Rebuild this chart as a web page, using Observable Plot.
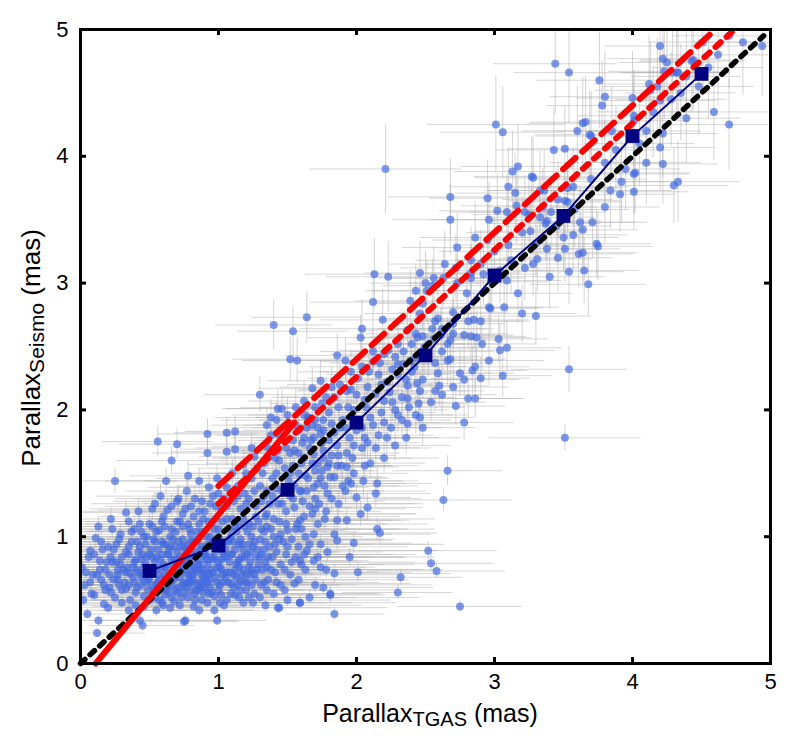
<!DOCTYPE html>
<html>
<head>
<meta charset="utf-8">
<script src="https://cdn.jsdelivr.net/npm/d3@7"></script>
<script src="https://cdn.jsdelivr.net/npm/@observablehq/plot@0.6"></script>
<style>
  html, body { margin: 0; padding: 0; background: #fff; }
  #chart { width: 794px; height: 754px; }
  svg { font-family: "Liberation Sans", Arial, Helvetica, sans-serif; }
</style>
</head>
<body>
<div id="chart"></div>
<script>
// ---- data: [tgas parallax, seismic parallax, tgas error, seismic error] ----
const clusterStars = [
[0.03,0.62,0.45,0.05],[0.05,0.39,0.40,0.04],[0.04,0.72,0.50,0.06],[0.07,0.89,0.55,0.07],[0.08,0.55,0.42,0.05],[0.10,0.54,0.38,0.05],[0.11,0.99,0.60,0.08],[0.12,0.24,0.35,0.04],[0.13,0.34,0.40,0.04],[0.13,1.08,0.55,0.08],[0.14,0.81,0.50,0.06],[0.15,0.66,0.45,0.05],[0.17,0.47,0.40,0.05],[0.18,0.74,0.48,0.06],[0.20,0.92,0.52,0.07],[0.21,0.60,0.45,0.05],[0.22,1.14,0.50,0.09],[0.23,0.80,0.46,0.06],[0.25,1.44,0.45,0.10],[0.25,0.52,0.42,0.05],[0.27,0.70,0.50,0.06],[0.28,0.98,0.55,0.08],[0.30,0.84,0.48,0.06],[0.30,0.58,0.44,0.05],
[0.32,0.64,0.40,0.05],[0.33,1.19,0.50,0.09],[0.34,0.76,0.46,0.06],[0.35,0.92,0.52,0.07],[0.36,0.50,0.40,0.05],[0.37,1.04,0.48,0.08],[0.38,0.68,0.45,0.05],[0.40,0.82,0.50,0.06],[0.40,0.56,0.42,0.05],[0.41,0.96,0.44,0.07],[0.42,0.72,0.55,0.06],[0.43,0.34,0.35,0.04],[0.43,1.10,0.50,0.08],[0.44,0.62,0.40,0.05],[0.45,0.86,0.48,0.07],[0.46,0.45,0.38,0.04],[0.47,0.78,0.50,0.06],[0.48,1.00,0.46,0.08],[0.49,0.58,0.44,0.05],[0.50,0.68,0.52,0.06],[0.51,0.90,0.48,0.07],[0.52,1.22,0.45,0.09],[0.53,0.74,0.50,0.06],[0.54,0.52,0.42,0.05],[0.55,0.84,0.46,0.07],[0.56,1.75,0.40,0.12],[0.56,0.64,0.48,0.05],[0.57,1.05,0.50,0.08],[0.58,0.76,0.44,0.06],[0.58,1.32,0.46,0.10],[0.59,0.48,0.40,0.05],[0.60,0.94,0.52,0.07],
[0.61,0.70,0.48,0.06],[0.62,0.58,0.45,0.05],[0.63,1.21,0.50,0.09],[0.63,0.86,0.46,0.07],[0.64,0.64,0.50,0.06],[0.65,1.00,0.44,0.08],[0.66,1.60,0.40,0.11],[0.66,0.52,0.42,0.05],[0.67,0.78,0.48,0.06],[0.68,0.92,0.52,0.07],[0.69,0.68,0.46,0.06],[0.70,1.73,0.42,0.12],[0.70,1.12,0.50,0.09],[0.71,0.60,0.44,0.05],[0.71,1.30,0.46,0.10],[0.72,0.84,0.48,0.07],[0.73,0.72,0.50,0.06],[0.74,0.98,0.45,0.08],[0.75,0.56,0.42,0.05],[0.75,0.64,0.46,0.06],[0.76,0.34,0.38,0.04],[0.76,0.80,0.50,0.06],[0.77,1.36,0.44,0.10],[0.77,0.90,0.48,0.07],[0.78,0.70,0.52,0.06],[0.79,1.06,0.46,0.08],[0.80,0.58,0.44,0.05],[0.80,0.76,0.50,0.06],[0.81,0.86,0.48,0.07],[0.82,0.66,0.46,0.06],[0.82,1.16,0.44,0.09],[0.83,0.50,0.42,0.05],[0.84,0.74,0.50,0.06],[0.84,0.96,0.46,0.08],[0.85,0.62,0.48,0.05],[0.86,1.44,0.40,0.10],[0.86,0.42,0.40,0.05],[0.87,0.82,0.52,0.07],[0.88,0.70,0.46,0.06],[0.88,1.04,0.44,0.08],[0.89,0.56,0.42,0.05],[0.90,0.88,0.50,0.07],
[0.91,0.66,0.48,0.06],[0.92,1.81,0.36,0.12],[0.92,1.66,0.40,0.11],[0.92,0.78,0.46,0.06],[0.93,1.39,0.44,0.10],[0.93,1.12,0.46,0.09],[0.94,0.60,0.44,0.05],[0.95,0.94,0.50,0.07],[0.96,0.72,0.48,0.06],[0.97,0.42,0.40,0.05],[0.97,0.84,0.46,0.07],[0.98,1.24,0.42,0.09],[0.99,0.34,0.36,0.04],[0.99,0.64,0.46,0.06],[1.00,1.00,0.48,0.08],[1.01,0.76,0.50,0.06],[1.02,0.54,0.42,0.05],[1.03,0.88,0.46,0.07],[1.04,1.30,0.44,0.10],[1.05,0.68,0.48,0.06],[1.06,1.82,0.38,0.12],[1.06,1.67,0.40,0.11],[1.06,1.39,0.42,0.10],[1.07,0.96,0.46,0.08],[1.08,0.80,0.50,0.06],[1.09,0.55,0.42,0.05],[1.10,1.14,0.44,0.09],[1.11,0.70,0.46,0.06],[1.12,1.83,0.36,0.12],[1.12,1.69,0.40,0.11],[1.12,0.90,0.48,0.07],[1.13,1.04,0.46,0.08],[1.14,0.62,0.44,0.05],[1.15,0.82,0.50,0.07],[1.16,0.65,0.46,0.06],[1.16,1.22,0.44,0.09],[1.17,0.94,0.48,0.07],[1.18,1.57,0.40,0.11],[1.18,0.74,0.46,0.06],[1.19,1.08,0.44,0.08],[1.20,0.58,0.42,0.05],
[1.21,0.86,0.48,0.07],[1.22,1.30,0.44,0.10],[1.23,0.70,0.46,0.06],[1.24,1.00,0.46,0.08],[1.25,0.48,0.40,0.05],[1.26,1.63,0.40,0.11],[1.26,0.71,0.44,0.06],[1.26,0.55,0.42,0.05],[1.27,1.16,0.44,0.09],[1.28,0.90,0.48,0.07],[1.29,0.78,0.46,0.06],[1.30,1.40,0.42,0.10],[1.31,1.06,0.44,0.08],[1.32,1.50,0.42,0.11],[1.33,0.64,0.44,0.06],[1.34,0.96,0.46,0.08],[1.35,1.36,0.40,0.10],[1.35,1.08,0.44,0.08],[1.35,1.18,0.44,0.09],[1.35,1.71,0.40,0.11],[1.35,0.58,0.42,0.05],[1.36,0.84,0.46,0.07],[1.37,1.26,0.42,0.09],[1.38,1.80,0.40,0.12],[1.38,0.74,0.44,0.06],[1.39,1.46,0.40,0.10],[1.40,1.00,0.46,0.08],[1.41,1.62,0.40,0.11],[1.42,0.88,0.44,0.07],[1.43,1.81,0.38,0.12],[1.43,1.26,0.42,0.09],[1.43,1.68,0.40,0.11],[1.44,0.44,0.38,0.05],[1.44,1.12,0.44,0.09],[1.45,0.62,0.42,0.06],[1.46,1.36,0.40,0.10],[1.47,0.96,0.44,0.08],[1.47,1.78,0.38,0.12],[1.48,1.54,0.40,0.11],[1.49,1.20,0.42,0.09],[1.50,0.92,0.44,0.07],[1.50,1.05,0.42,0.08],
[1.51,1.44,0.40,0.10],[1.52,1.66,0.38,0.11],[1.53,0.80,0.90,0.07],[1.54,1.30,0.40,0.10],[1.55,1.23,0.42,0.09],[1.55,1.68,0.38,0.11],[1.55,0.63,0.85,0.06],[1.56,1.88,0.38,0.12],[1.57,1.10,0.42,0.09],[1.58,1.50,0.40,0.10],[1.59,1.13,0.80,0.09],[1.59,0.81,0.42,0.07],[1.59,0.48,0.38,0.05],[1.60,1.36,0.40,0.10],[1.61,1.74,0.38,0.12],[1.62,1.62,0.38,0.11],[1.62,1.78,0.38,0.12],[1.63,1.00,0.42,0.08],[1.64,0.89,0.95,0.07],[1.65,1.46,0.40,0.10],[1.65,1.94,0.38,0.13],[1.66,1.24,0.40,0.09],[1.67,1.76,0.38,0.12],[1.68,1.58,0.38,0.11],[1.69,1.02,0.85,0.08],[1.69,1.39,0.40,0.10],[1.69,1.65,0.38,0.11],[1.69,0.81,0.40,0.07],[1.70,1.30,0.40,0.10],[1.72,1.42,0.40,0.10],[1.72,1.86,0.38,0.12],[1.74,0.94,0.90,0.08],[1.74,0.76,0.40,0.07],[1.74,1.81,0.38,0.12],[1.75,1.52,0.38,0.11],[1.76,0.60,0.80,0.06],[1.76,1.68,0.38,0.11],[1.78,1.20,0.40,0.09],[1.79,0.88,0.40,0.07],[1.79,1.34,0.40,0.10],[1.79,1.55,0.38,0.11],[1.80,1.76,0.38,0.12],[1.81,0.55,0.38,0.06],[1.82,1.64,0.38,0.11],[1.84,0.71,0.85,0.07],[1.84,1.47,0.38,0.10],[1.84,0.39,0.36,0.05],[1.86,1.13,0.40,0.09],[1.86,0.97,0.40,0.08],[1.88,1.86,0.38,0.12],[1.89,1.56,0.38,0.11],
[0.45,0.70,0.50,0.06],[0.48,0.84,0.46,0.07],[0.52,0.62,0.48,0.05],[0.54,0.96,0.44,0.08],[0.57,0.70,0.50,0.06],[0.59,0.86,0.46,0.07],[0.61,0.54,0.42,0.05],[0.62,0.76,0.48,0.06],[0.64,0.90,0.46,0.07],[0.66,0.62,0.50,0.06],[0.68,0.82,0.44,0.07],[0.69,1.04,0.46,0.08],[0.70,0.56,0.42,0.05],[0.72,0.68,0.48,0.06],[0.73,0.92,0.46,0.07],[0.74,0.78,0.50,0.06],[0.76,0.60,0.44,0.05],[0.78,0.82,0.48,0.07],[0.79,0.64,0.46,0.06],[0.80,0.96,0.44,0.08],[0.81,0.70,0.50,0.06],[0.83,0.88,0.46,0.07],[0.84,0.58,0.44,0.05],[0.85,0.78,0.48,0.06],[0.87,0.64,0.46,0.06],[0.88,0.92,0.44,0.07],[0.89,0.74,0.50,0.06],[0.90,0.60,0.42,0.05],[0.91,0.84,0.48,0.07],[0.93,0.70,0.46,0.06],[0.94,1.00,0.44,0.08],[0.95,0.56,0.42,0.05],[0.96,0.82,0.48,0.07],[0.98,0.68,0.46,0.06],[0.99,0.90,0.44,0.07],[1.01,0.62,0.46,0.06],[1.02,0.74,0.48,0.06],[1.04,0.84,0.46,0.07],[1.05,0.96,0.44,0.08],[1.07,0.64,0.46,0.06],[1.08,0.72,0.48,0.06],[1.10,0.86,0.46,0.07],[1.11,0.60,0.42,0.05],[1.13,0.78,0.48,0.06],[1.15,0.94,0.44,0.08],[1.17,0.70,0.46,0.06],[1.19,0.84,0.48,0.07],[1.21,0.64,0.44,0.06],[1.23,0.80,0.46,0.07],[1.25,0.92,0.44,0.08],[1.27,0.66,0.46,0.06],[1.30,0.84,0.46,0.07],[1.32,0.74,0.44,0.06],[1.34,1.16,0.42,0.09],[1.37,0.92,0.44,0.08],[0.42,0.88,0.50,0.07],[0.38,0.76,0.48,0.06],[0.35,0.62,0.46,0.05],[0.31,0.74,0.50,0.06],[0.28,0.62,0.46,0.05],[0.26,0.80,0.50,0.06],[0.21,0.70,0.48,0.06],[0.18,0.58,0.46,0.05],[0.16,0.90,0.52,0.07],[0.09,0.70,0.50,0.06],[0.06,0.84,0.52,0.07],[0.02,0.50,0.42,0.05],[0.55,0.42,0.40,0.05],[0.65,0.44,0.40,0.05],[0.72,0.46,0.42,0.05],[0.82,0.45,0.42,0.05],[0.92,0.48,0.42,0.05],[1.04,0.46,0.40,0.05],[1.15,0.52,0.42,0.05],[0.50,1.10,0.46,0.08],[0.60,1.16,0.46,0.09],[0.76,1.22,0.44,0.09],[0.88,1.28,0.44,0.10],[0.98,1.14,0.44,0.09],[1.08,1.06,0.44,0.08],[1.22,1.10,0.44,0.09],
[1.43,0.44,0.80,0.05],[1.59,0.48,0.70,0.05],[0.75,0.33,0.40,0.04],[0.45,0.30,0.38,0.04]
];

const coreStars = [
[0.30,0.48,0.42,0.05],[0.40,0.46,0.40,0.05],[0.50,0.50,0.44,0.05],[0.60,0.46,0.42,0.05],[0.68,0.49,0.46,0.05],[0.78,0.52,0.44,0.05],[0.88,0.50,0.48,0.05],[0.97,0.53,0.44,0.05],[1.06,0.50,0.46,0.05],[1.18,0.48,0.60,0.05],[1.30,0.52,0.70,0.05],[1.40,0.55,0.75,0.06],
[0.22,0.56,0.44,0.05],[0.33,0.59,0.46,0.05],[0.41,0.60,0.48,0.05],[0.47,0.64,0.44,0.06],[0.53,0.57,0.46,0.05],[0.63,0.61,0.50,0.06],[0.69,0.58,0.44,0.05],[0.77,0.63,0.48,0.06],[0.86,0.59,0.46,0.05],[0.92,0.64,0.50,0.06],[1.00,0.58,0.46,0.05],[1.09,0.63,0.52,0.06],[1.16,0.58,0.60,0.05],[1.24,0.62,0.65,0.06],[1.36,0.66,0.70,0.06],[1.48,0.58,0.80,0.06],
[0.12,0.70,0.50,0.06],[0.24,0.66,0.48,0.06],[0.36,0.71,0.46,0.06],[0.44,0.68,0.50,0.06],[0.51,0.72,0.48,0.06],[0.57,0.66,0.46,0.06],[0.65,0.70,0.52,0.06],[0.71,0.74,0.48,0.06],[0.79,0.69,0.46,0.06],[0.83,0.72,0.50,0.06],[0.89,0.68,0.48,0.06],[0.95,0.74,0.46,0.06],[1.03,0.70,0.50,0.06],[1.12,0.74,0.55,0.06],[1.20,0.70,0.60,0.06],[1.28,0.74,0.65,0.06],[1.41,0.72,0.75,0.06],[1.52,0.70,0.80,0.06],[1.63,0.74,0.85,0.07],
[0.19,0.80,0.52,0.07],[0.29,0.78,0.50,0.06],[0.39,0.80,0.48,0.07],[0.46,0.76,0.46,0.06],[0.54,0.80,0.50,0.07],[0.60,0.78,0.48,0.06],[0.66,0.82,0.46,0.07],[0.73,0.78,0.50,0.06],[0.79,0.84,0.48,0.07],[0.86,0.78,0.46,0.06],[0.92,0.82,0.50,0.07],[1.00,0.80,0.48,0.07],[1.06,0.84,0.52,0.07],[1.14,0.80,0.55,0.07],[1.22,0.76,0.60,0.06],[1.27,0.84,0.62,0.07],[1.34,0.80,0.70,0.07],[1.45,0.78,0.75,0.07],[1.56,0.84,0.80,0.07],
[0.24,0.90,0.52,0.07],[0.33,0.88,0.50,0.07],[0.43,0.92,0.48,0.07],[0.50,0.86,0.46,0.07],[0.56,0.90,0.50,0.07],[0.62,0.94,0.48,0.08],[0.70,0.88,0.46,0.07],[0.75,0.92,0.50,0.07],[0.82,0.96,0.48,0.08],[0.87,0.90,0.46,0.07],[0.93,0.94,0.50,0.08],[0.98,0.98,0.48,0.08],[1.05,0.90,0.50,0.07],[1.11,0.96,0.52,0.08],[1.18,0.90,0.55,0.07],[1.26,0.96,0.60,0.08],[1.33,0.90,0.65,0.07],[1.41,0.94,0.70,0.08],[1.53,0.98,0.75,0.08],[1.66,0.94,0.85,0.08],
[0.29,1.02,0.52,0.08],[0.39,1.06,0.50,0.08],[0.46,1.00,0.48,0.08],[0.55,1.04,0.50,0.08],[0.61,1.08,0.48,0.08],[0.67,0.98,0.46,0.08],[0.74,1.08,0.50,0.08],[0.80,1.02,0.48,0.08],[0.86,1.10,0.46,0.09],[0.91,1.00,0.50,0.08],[0.97,1.06,0.48,0.08],[1.03,1.12,0.50,0.09],[1.09,1.00,0.52,0.08],[1.14,1.10,0.55,0.09],[1.21,1.04,0.58,0.08],[1.29,1.12,0.62,0.09],[1.38,1.06,0.66,0.08],[1.45,1.02,0.70,0.08],[1.56,1.06,0.75,0.08],[1.62,1.16,0.70,0.09],[1.72,1.10,0.80,0.09],
[0.42,1.20,0.48,0.09],[0.54,1.26,0.46,0.09],[0.66,1.24,0.48,0.09],[0.74,1.18,0.46,0.09],[0.83,1.30,0.44,0.10],[0.90,1.20,0.48,0.09],[0.96,1.32,0.44,0.10],[1.02,1.22,0.46,0.09],[1.11,1.28,0.48,0.10],[1.19,1.34,0.46,0.10],[1.27,1.24,0.50,0.09],[1.33,1.32,0.52,0.10],[1.42,1.38,0.50,0.10],[1.52,1.32,0.55,0.10],[1.61,1.28,0.60,0.10],[1.73,1.26,0.70,0.10],[1.82,1.30,0.65,0.10],
[0.62,1.44,0.44,0.10],[0.78,1.48,0.42,0.11],[0.99,1.46,0.44,0.11],[1.10,1.50,0.42,0.11],[1.14,1.40,0.44,0.10],[1.24,1.46,0.44,0.11],[1.28,1.54,0.42,0.11],[1.42,1.50,0.44,0.11],[1.54,1.56,0.44,0.11],[1.63,1.48,0.46,0.11],[1.74,1.46,0.50,0.11],[1.90,1.40,0.55,0.11],
[1.24,1.70,0.40,0.12],[1.36,1.62,0.40,0.12],[1.49,1.70,0.40,0.12],[1.58,1.66,0.40,0.12],[1.66,1.70,0.40,0.12],[1.76,1.62,0.42,0.12],[1.86,1.72,0.42,0.12],[1.95,1.78,0.40,0.13],[1.58,1.84,0.40,0.13],[1.70,1.92,0.40,0.13],[1.80,1.98,0.40,0.14],[1.90,1.92,0.40,0.14],[1.98,2.00,0.40,0.14],[2.04,1.86,0.40,0.13],[2.12,1.88,0.40,0.14],[2.18,1.98,0.40,0.14],[2.26,2.06,0.38,0.15],[2.00,2.12,0.38,0.15],[2.08,2.18,0.38,0.15],[2.22,2.22,0.38,0.16],[2.30,2.28,0.38,0.16],[2.16,2.28,0.38,0.16],[1.96,2.30,0.38,0.16],[2.34,2.36,0.38,0.17],[2.40,2.30,0.38,0.16],[2.52,2.42,0.38,0.17],[2.28,2.42,0.38,0.17],[2.12,2.46,0.38,0.17],[2.52,2.52,0.38,0.18],[2.62,2.46,0.38,0.18]
];

const denseStars = [
[0.20,0.44,0.44,0.05],[0.35,0.42,0.42,0.05],[0.46,0.53,0.46,0.05],[0.57,0.50,0.48,0.05],[0.64,0.56,0.50,0.05],[0.73,0.52,0.46,0.05],[0.83,0.55,0.52,0.05],[0.93,0.55,0.55,0.05],[1.01,0.48,0.50,0.05],[1.12,0.54,0.60,0.05],[1.22,0.52,0.65,0.05],[1.34,0.46,0.70,0.05],[1.50,0.50,0.75,0.05],[1.66,0.52,0.80,0.05],
[0.07,0.64,0.50,0.06],[0.17,0.62,0.48,0.06],[0.27,0.66,0.52,0.06],[0.39,0.64,0.50,0.06],[0.49,0.66,0.55,0.06],[0.55,0.62,0.48,0.06],[0.60,0.64,0.52,0.06],[0.67,0.66,0.56,0.06],[0.74,0.62,0.50,0.06],[0.81,0.64,0.54,0.06],[0.88,0.62,0.58,0.06],[0.94,0.66,0.52,0.06],[1.03,0.64,0.60,0.06],[1.13,0.68,0.62,0.06],[1.19,0.64,0.66,0.06],[1.31,0.62,0.70,0.06],[1.42,0.64,0.75,0.06],[1.58,0.66,0.80,0.06],[1.70,0.62,0.85,0.06],
[0.01,0.76,0.52,0.06],[0.14,0.74,0.50,0.06],[0.27,0.74,0.54,0.06],[0.33,0.72,0.50,0.06],[0.41,0.74,0.56,0.06],[0.49,0.76,0.52,0.06],[0.55,0.74,0.50,0.06],[0.61,0.76,0.56,0.06],[0.68,0.74,0.52,0.06],[0.76,0.74,0.58,0.06],[0.82,0.76,0.54,0.06],[0.87,0.74,0.50,0.06],[0.92,0.72,0.56,0.06],[0.99,0.76,0.60,0.06],[1.06,0.72,0.62,0.06],[1.15,0.76,0.64,0.06],[1.24,0.74,0.68,0.06],[1.35,0.76,0.72,0.07],[1.48,0.74,0.78,0.07],[1.60,0.78,0.82,0.07],[1.78,0.74,0.85,0.07],
[0.10,0.86,0.54,0.07],[0.22,0.84,0.52,0.07],[0.35,0.86,0.56,0.07],[0.44,0.82,0.50,0.07],[0.52,0.84,0.54,0.07],[0.58,0.82,0.50,0.07],[0.64,0.86,0.56,0.07],[0.70,0.82,0.52,0.07],[0.76,0.86,0.58,0.07],[0.83,0.82,0.54,0.07],[0.90,0.86,0.50,0.07],[0.95,0.84,0.56,0.07],[1.02,0.82,0.60,0.07],[1.09,0.86,0.62,0.07],[1.17,0.84,0.64,0.07],[1.23,0.88,0.66,0.07],[1.31,0.86,0.70,0.07],[1.39,0.84,0.74,0.07],[1.49,0.86,0.78,0.07],[1.62,0.86,0.82,0.07],[1.72,0.84,0.85,0.07],
[0.15,0.96,0.54,0.08],[0.26,0.94,0.52,0.08],[0.37,0.96,0.56,0.08],[0.47,0.94,0.50,0.08],[0.53,0.98,0.54,0.08],[0.59,0.96,0.50,0.08],[0.65,0.92,0.56,0.07],[0.71,0.96,0.52,0.08],[0.78,0.94,0.58,0.08],[0.85,0.98,0.54,0.08],[0.91,0.92,0.50,0.07],[0.96,0.96,0.56,0.08],[1.02,0.94,0.60,0.08],[1.08,0.98,0.62,0.08],[1.16,0.98,0.64,0.08],[1.22,0.94,0.66,0.08],[1.30,0.98,0.70,0.08],[1.44,0.98,0.76,0.08],[1.58,0.92,0.80,0.08],
[0.23,1.06,0.52,0.08],[0.35,1.12,0.50,0.09],[0.44,1.04,0.54,0.08],[0.52,1.08,0.50,0.08],[0.59,1.12,0.54,0.09],[0.66,1.06,0.50,0.08],[0.72,1.12,0.52,0.09],[0.78,1.10,0.50,0.09],[0.84,1.04,0.54,0.08],[0.89,1.14,0.50,0.09],[0.95,1.10,0.52,0.09],[1.00,1.06,0.56,0.08],[1.06,1.14,0.58,0.09],[1.12,1.08,0.60,0.08],[1.18,1.14,0.62,0.09],[1.25,1.08,0.64,0.08],[1.33,1.04,0.68,0.08],[1.40,1.14,0.70,0.09],[1.49,1.10,0.74,0.09],[1.60,1.06,0.78,0.08],[1.68,1.18,0.76,0.09],[1.77,1.14,0.80,0.09],
[0.70,1.28,0.46,0.10],[0.80,1.24,0.48,0.09],[0.86,1.20,0.46,0.09],[0.94,1.26,0.48,0.10],[1.00,1.34,0.46,0.10],[1.06,1.24,0.50,0.09],[1.14,1.32,0.48,0.10],[1.20,1.26,0.52,0.10],[1.26,1.36,0.48,0.10],[1.31,1.28,0.54,0.10],[1.39,1.32,0.52,0.10],[1.46,1.26,0.58,0.10],[1.55,1.40,0.50,0.10],[1.64,1.36,0.56,0.10],[1.70,1.22,0.66,0.09],[1.77,1.40,0.54,0.10],[1.87,1.26,0.62,0.10],[1.92,1.36,0.58,0.10],
[1.20,1.50,0.42,0.11],[1.33,1.58,0.42,0.11],[1.44,1.60,0.42,0.11],[1.52,1.50,0.44,0.11],[1.60,1.58,0.42,0.11],[1.70,1.52,0.46,0.11],[1.80,1.58,0.44,0.11],[1.87,1.64,0.42,0.12],[1.97,1.62,0.44,0.12],[2.04,1.70,0.42,0.12],[1.54,1.76,0.40,0.12],[1.64,1.86,0.40,0.13],[1.75,1.74,0.40,0.12],[1.84,1.82,0.40,0.13],[1.92,1.86,0.40,0.13],[2.00,1.84,0.40,0.13],[2.16,1.80,0.40,0.13],[2.06,2.08,0.38,0.15],[1.94,2.02,0.38,0.14],[2.24,2.14,0.38,0.15],[2.36,2.24,0.38,0.16],[2.18,2.20,0.38,0.16],[2.42,2.34,0.38,0.17],[2.48,2.24,0.38,0.16],[2.30,2.36,0.38,0.17]
];

const bandStars = [
[1.30,2.12,0.40,0.14],[1.40,2.67,0.42,0.20],[1.54,2.62,0.40,0.20],[1.64,2.73,0.40,0.20],[1.52,2.40,0.42,0.18],[1.57,2.39,0.40,0.18],
[2.03,2.57,0.38,0.18],[1.86,2.43,0.38,0.17],[1.92,2.39,0.38,0.17],[1.74,2.23,0.38,0.16],[1.82,2.18,0.38,0.16],[1.68,2.17,0.38,0.16],[1.62,2.07,0.40,0.15],[1.43,2.01,0.40,0.15],[1.46,2.01,0.40,0.15],[1.38,1.94,0.40,0.14],[1.65,1.94,0.38,0.14],[1.75,2.05,0.38,0.15],[1.84,2.10,0.38,0.15],[1.93,2.15,0.36,0.16],[2.01,2.25,0.36,0.16],[2.09,2.30,0.36,0.17],[2.17,2.37,0.36,0.17],[2.23,2.47,0.36,0.18],[2.30,2.52,0.36,0.18],[2.37,2.63,0.36,0.19],[2.43,2.60,0.36,0.19],[2.48,2.84,0.36,0.20],[2.43,2.94,0.36,0.21],[2.55,2.98,0.36,0.21],[2.63,3.04,0.36,0.22],[2.73,3.00,0.36,0.22],[2.83,3.08,0.36,0.22],[2.57,2.70,0.36,0.19],[2.68,2.55,0.36,0.18],[2.78,2.59,0.36,0.19],[2.90,2.70,0.36,0.19],[2.97,2.80,0.36,0.20],[3.03,2.56,0.36,0.19],[3.06,2.27,0.36,0.17],[2.90,2.25,0.36,0.17],[2.72,2.03,0.36,0.15],[2.78,1.90,0.36,0.14],[2.66,1.52,0.40,0.12],[2.48,1.86,0.38,0.14],[2.43,1.96,0.38,0.15],[2.15,1.42,0.40,0.12],[2.05,1.44,0.40,0.12],[1.96,1.42,0.40,0.12],[1.93,1.66,0.38,0.13],[1.93,1.55,0.38,0.12],[2.08,1.74,0.38,0.13],[2.22,1.78,0.38,0.13],[2.25,1.86,0.38,0.14],[2.37,1.89,0.38,0.14],[2.28,2.00,0.38,0.15],[2.33,2.10,0.38,0.15],[2.20,2.07,0.38,0.15],[2.14,2.13,0.38,0.15],[2.07,2.02,0.38,0.15],[2.10,1.94,0.38,0.14],[1.87,2.02,0.38,0.15],[1.82,1.89,0.38,0.14],[1.76,1.84,0.38,0.14],[1.69,1.78,0.38,0.13],[1.72,1.58,0.38,0.12],[1.81,1.47,0.38,0.12],[1.59,1.36,0.40,0.11],
[2.15,1.06,0.42,0.09],[2.17,1.03,0.42,0.09],[2.30,0.56,0.40,0.06],[1.98,0.95,0.42,0.08],[2.01,0.72,0.40,0.07],[1.95,0.84,0.40,0.07],[1.81,0.54,0.40,0.06],[2.14,1.34,0.40,0.11],[1.94,1.44,0.40,0.12],[2.00,1.31,0.40,0.11],[1.84,1.02,0.42,0.08],[1.93,1.13,0.40,0.09],[2.03,1.18,0.40,0.10],[2.08,1.23,0.40,0.10],
[3.51,1.78,0.55,0.10],[2.63,1.29,0.50,0.09],[2.52,0.89,0.50,0.07],[2.54,0.79,0.45,0.07],[2.58,0.73,0.50,0.06],[2.75,0.45,0.45,0.05],[2.32,0.68,0.45,0.06],[2.81,2.09,0.36,0.15],[2.86,2.09,0.36,0.15],[2.45,2.05,0.36,0.15],[2.37,2.09,0.36,0.15],[2.46,2.15,0.36,0.16],[2.57,2.15,0.36,0.16],[2.60,2.19,0.36,0.16],[2.37,2.19,0.36,0.16],[2.44,2.21,0.36,0.16],[2.33,1.92,0.36,0.14],
[1.35,1.88,0.40,0.13],[1.42,1.92,0.40,0.14],[1.50,1.96,0.40,0.14],[1.56,2.02,0.40,0.15],[1.62,1.96,0.40,0.14],[1.70,2.02,0.40,0.15],[1.78,2.10,0.40,0.15],[1.88,2.20,0.38,0.16],[1.96,2.16,0.38,0.16],[2.04,2.34,0.38,0.17],[2.12,2.38,0.38,0.17],[2.20,2.44,0.38,0.18],[2.26,2.32,0.38,0.17],[2.34,2.46,0.38,0.18],[2.40,2.52,0.38,0.18],[2.48,2.58,0.38,0.19],[2.56,2.56,0.38,0.19],[2.62,2.64,0.38,0.19],[2.70,2.68,0.38,0.20],[1.98,1.72,0.40,0.13],[2.06,1.78,0.40,0.13],[2.14,1.70,0.40,0.13],[2.20,1.90,0.40,0.14],[2.30,1.96,0.40,0.15],[2.38,2.02,0.40,0.15],[2.46,1.94,0.40,0.14],[2.54,2.06,0.40,0.15],[2.62,2.12,0.40,0.16],[2.70,2.18,0.40,0.16],[2.78,2.24,0.40,0.17],[2.10,1.58,0.40,0.12],[2.20,1.62,0.40,0.12],[2.28,1.72,0.40,0.13],[2.36,1.78,0.40,0.13],[1.86,1.56,0.40,0.12],[1.98,1.50,0.40,0.12],[2.06,1.56,0.40,0.12],[1.76,1.92,0.40,0.14],[1.68,1.88,0.40,0.14],[1.50,1.86,0.40,0.13]
];

const upperStars = [
[3.44,4.73,0.45,0.40],[3.54,4.66,0.40,0.40],[3.76,4.60,0.45,0.38],[3.80,4.47,0.40,0.36],[3.78,4.40,0.40,0.35],[3.01,4.25,0.50,0.38],[3.06,4.19,0.45,0.36],[4.20,4.87,0.40,0.40],[4.22,4.77,0.40,0.40],[4.25,4.74,0.35,0.38],[4.51,4.90,0.40,0.40],[4.80,4.90,0.35,0.42],[4.94,4.87,0.30,0.40],[4.59,4.35,0.40,0.38],[4.70,4.25,0.45,0.36],[4.39,4.30,0.40,0.36],[4.22,3.94,0.40,0.32],[4.33,3.80,0.45,0.32],[4.30,3.77,0.40,0.30],[4.20,4.07,0.40,0.34],[4.01,3.72,0.40,0.30],[3.91,3.70,0.40,0.30],[3.84,3.73,0.45,0.30],[3.75,3.29,0.40,0.27],[3.68,2.99,0.42,0.25],[3.64,3.24,0.40,0.27],[3.54,3.09,0.40,0.26],[3.54,2.32,0.42,0.18],[2.68,3.68,0.45,0.30],[2.68,3.50,0.42,0.28],[2.95,3.67,0.42,0.30],[3.43,4.05,0.42,0.34],[3.51,4.06,0.40,0.34],[3.64,4.26,0.40,0.36],[3.70,4.16,0.40,0.35],[4.00,4.46,0.40,0.37],[4.12,4.57,0.40,0.38],[4.32,4.66,0.38,0.38],[4.39,4.63,0.40,0.38],[4.44,4.76,0.38,0.40],[4.23,4.67,0.40,0.38],[4.20,4.44,0.40,0.37],[4.18,4.55,0.40,0.38],[4.01,4.32,0.40,0.36],[3.95,3.90,0.40,0.32],[4.01,3.86,0.40,0.32],
[3.13,3.88,0.42,0.32],[3.17,3.92,0.42,0.33],[3.28,3.83,0.42,0.32],[3.36,3.73,0.40,0.31],[3.15,3.71,0.42,0.31],[2.96,3.50,0.42,0.29],[3.02,3.57,0.42,0.29],[3.09,3.56,0.40,0.29],[3.25,3.54,0.40,0.29],[3.33,3.52,0.40,0.29],[3.38,3.49,0.40,0.29],[3.46,3.66,0.40,0.30],[3.51,3.65,0.40,0.30],[3.53,3.75,0.40,0.31],[3.71,3.48,0.40,0.29],[3.62,3.48,0.40,0.29],[3.50,3.36,0.40,0.28],[3.57,3.38,0.40,0.28],[3.51,3.27,0.40,0.27],[3.46,3.20,0.40,0.27],[3.38,3.27,0.40,0.27],[3.31,3.19,0.40,0.26],[3.22,3.12,0.40,0.26],[3.17,2.92,0.40,0.24],[3.09,3.02,0.40,0.25],[3.04,3.10,0.40,0.26],[2.98,3.01,0.40,0.25],[2.90,3.15,0.40,0.26],[2.83,3.04,0.40,0.25],[2.72,3.12,0.40,0.26],[2.64,3.15,0.40,0.26],[2.56,3.04,0.40,0.25],[2.46,3.08,0.40,0.25],[2.51,2.94,0.40,0.24],[3.07,2.81,0.40,0.23],[3.20,2.76,0.40,0.23],[3.30,2.74,0.40,0.23],[3.09,2.49,0.40,0.21],[2.91,2.52,0.40,0.21],[2.83,2.58,0.40,0.21],[2.85,2.71,0.40,0.22],[2.96,2.81,0.40,0.23],[2.70,2.77,0.40,0.23],[2.59,2.72,0.40,0.22],[2.61,2.59,0.40,0.21],[2.66,2.52,0.40,0.21],[2.49,2.49,0.40,0.20],[2.44,2.57,0.40,0.21],[2.39,2.39,0.40,0.20],[2.57,2.37,0.40,0.19],[2.68,2.40,0.40,0.20],[2.75,2.29,0.40,0.19],[2.86,2.34,0.40,0.19],
[4.22,4.18,0.40,0.35],[4.02,3.87,0.40,0.32],[3.74,3.31,0.40,0.27],[3.64,3.42,0.40,0.28],[3.60,4.20,0.40,0.35],[3.66,4.27,0.40,0.36],[3.69,4.17,0.40,0.35],[4.01,4.28,0.40,0.36],[4.13,4.52,0.40,0.38],[4.29,4.66,0.38,0.38],[4.33,4.66,0.38,0.38],[4.43,4.75,0.38,0.40],[3.27,3.84,0.42,0.32],[3.33,3.73,0.40,0.31],[3.10,3.76,0.42,0.31],[3.16,3.61,0.40,0.30],[3.22,3.56,0.40,0.29],[3.26,3.41,0.40,0.28],[3.37,3.47,0.40,0.29],[3.41,3.56,0.40,0.29],[3.53,3.64,0.40,0.30],[3.57,3.76,0.40,0.31],[3.30,3.31,0.40,0.27],[3.12,3.18,0.40,0.26],[3.28,3.15,0.40,0.26],[3.61,3.23,0.40,0.27],[3.65,3.10,0.40,0.26],[2.92,3.07,0.40,0.25],[2.83,3.18,0.40,0.26],[2.73,3.28,0.40,0.27],[2.95,3.34,0.40,0.28],[2.86,3.36,0.40,0.28],
[2.50,3.00,0.40,0.25],[2.39,2.86,0.40,0.24],[2.46,2.76,0.40,0.23],[2.55,2.64,0.40,0.22],[2.70,2.60,0.40,0.22],[2.81,2.70,0.40,0.22],[2.87,2.57,0.40,0.21],[3.04,2.47,0.40,0.21],[2.96,2.39,0.40,0.20],[2.84,2.31,0.40,0.19],[2.43,2.41,0.40,0.20],[2.59,2.29,0.40,0.19],[2.66,2.39,0.40,0.20],
[3.20,3.40,0.40,0.28],[3.35,3.60,0.40,0.30],[3.45,3.45,0.40,0.29],[3.58,3.58,0.40,0.30],[3.70,3.82,0.40,0.32],[3.80,3.95,0.40,0.33],[3.88,4.05,0.40,0.34],[3.92,3.80,0.40,0.32],[4.05,4.10,0.40,0.34],[4.10,4.20,0.40,0.35],[4.15,4.35,0.40,0.36],[4.28,4.45,0.40,0.37],[4.35,4.50,0.40,0.38],[4.48,4.55,0.40,0.38],[4.55,4.70,0.40,0.40],[4.62,4.80,0.40,0.40],[4.70,4.95,0.40,0.42],[3.85,4.20,0.40,0.35],[3.00,3.25,0.40,0.27],[2.80,2.92,0.40,0.24],[3.10,3.30,0.40,0.27],[3.40,3.05,0.40,0.26],[3.80,3.60,0.40,0.30],[4.10,3.95,0.40,0.33]
];

const outlierStars = [
[2.21,3.90,0.55,0.35],[2.13,3.07,0.50,0.28],[2.23,3.05,0.45,0.28],[2.12,2.85,0.45,0.25],[2.19,2.71,0.45,0.24],[2.04,2.64,0.45,0.23]
];

// binned medians
const binTgas   = [0.5, 1.0, 1.5, 2.0, 2.5, 3.0, 3.5, 4.0, 4.5];
const binSeismo = [0.73, 0.93, 1.37, 1.90, 2.43, 3.06, 3.53, 4.16, 4.65];

// reference relations
const oneToOneX = [0.0, 4.95];
const oneToOneY = [0.0, 4.95];
const redSolidX = [0.11, 1.55];
const redSolidY = [0.00, 1.90];
const redDashedX = [1.00, 4.60];
const redDashedY = [1.40, 5.00];
const redDottedX = [1.00, 4.74];
const redDottedY = [1.26, 5.00];

const axisTicks = [0, 1, 2, 3, 4, 5];
const innerTicks = [1, 2, 3, 4];

// ---- build ----
const stars = [...clusterStars, ...coreStars, ...denseStars, ...bandStars, ...upperStars, ...outlierStars]
  .map(([x, y, ex, ey]) => ({x, y, ex, ey}));
const bins = binTgas.map((x, i) => ({x, y: binSeismo[i]}));
const pts = (xs, ys) => xs.map((x, i) => ({x, y: ys[i]}));

const W = 794, H = 754, mL = 80, mR = 24, mT = 29, mB = 91;
const innerH = H - mT - mB, innerW = W - mL - mR;
const tickLen = 6;

const chart = Plot.plot({
  width: W, height: H,
  marginLeft: mL, marginRight: mR, marginTop: mT, marginBottom: mB,
  style: {fontFamily: '"Liberation Sans", Arial, Helvetica, sans-serif', background: "white"},
  x: {domain: [0, 5]},
  y: {domain: [0, 5]},
  marks: [
    // error bars
    Plot.ruleY(stars, {y: "y", x1: d => d.x - d.ex, x2: d => d.x + d.ex, stroke: "#b0b0b0", strokeOpacity: 0.5, strokeWidth: 1, clip: true}),
    Plot.ruleX(stars, {x: "x", y1: d => d.y - d.ey, y2: d => d.y + d.ey, stroke: "#b0b0b0", strokeOpacity: 0.55, strokeWidth: 1, clip: true}),
    // stars
    Plot.dot(stars, {x: "x", y: "y", r: 4, fill: "#4169E1", fillOpacity: 0.68, stroke: "none", clip: true}),
    // 1:1 line
    Plot.line(pts(oneToOneX, oneToOneY), {x: "x", y: "y", stroke: "black", strokeWidth: 5.5, strokeDasharray: "6,7"}),
    // red relations
    Plot.line(pts(redSolidX, redSolidY), {x: "x", y: "y", stroke: "#ff0000", strokeWidth: 6}),
    Plot.line(pts(redDashedX, redDashedY), {x: "x", y: "y", stroke: "#ff0000", strokeWidth: 6, strokeDasharray: "17,9"}),
    Plot.line(pts(redDottedX, redDottedY), {x: "x", y: "y", stroke: "#ff0000", strokeWidth: 6, strokeDasharray: "7,8"}),
    // binned medians
    Plot.line(bins, {x: "x", y: "y", stroke: "#000080", strokeWidth: 2}),
    Plot.dot(bins, {x: "x", y: "y", symbol: "square", r: 7.8, fill: "#000080", stroke: "none"}),
    // frame and ticks
    Plot.frame({stroke: "black", strokeWidth: 3}),
    Plot.ruleX(innerTicks, {x: d => d, insetTop: innerH - tickLen, stroke: "black", strokeWidth: 3}),
    Plot.ruleX(innerTicks, {x: d => d, insetBottom: innerH - tickLen, stroke: "black", strokeWidth: 3}),
    Plot.ruleY(innerTicks, {y: d => d, insetRight: innerW - tickLen, stroke: "black", strokeWidth: 3}),
    Plot.ruleY(innerTicks, {y: d => d, insetLeft: innerW - tickLen, stroke: "black", strokeWidth: 3}),
    Plot.axisX(axisTicks, {tickSize: 0, tickPadding: 10, fontSize: 22, label: null, tickFormat: d => String(d), fill: "black"}),
    Plot.axisY(axisTicks, {tickSize: 0, tickPadding: 12, fontSize: 22, label: null, tickFormat: d => String(d), fill: "black"})
  ]
});

document.getElementById("chart").appendChild(chart);

// axis titles with subscripts
const svg = d3.select(chart);
const xt = svg.append("text")
  .attr("x", 430).attr("y", 722)
  .attr("text-anchor", "middle")
  .style("font-size", "25px").style("font-family", '"Liberation Sans", Arial, sans-serif').attr("fill", "black");
xt.append("tspan").text("Parallax");
xt.append("tspan").attr("dy", 4).style("font-size", "20px").text("TGAS");
xt.append("tspan").attr("dy", -4).text(" (mas)");

const yt = svg.append("text")
  .attr("transform", "translate(40, 348) rotate(-90)")
  .attr("text-anchor", "middle")
  .style("font-size", "26px").style("font-family", '"Liberation Sans", Arial, sans-serif').attr("fill", "black");
yt.append("tspan").text("Parallax");
yt.append("tspan").attr("dy", 4).style("font-size", "21px").text("Seismo");
yt.append("tspan").attr("dy", -4).text(" (mas)");
</script>
</body>
</html>
